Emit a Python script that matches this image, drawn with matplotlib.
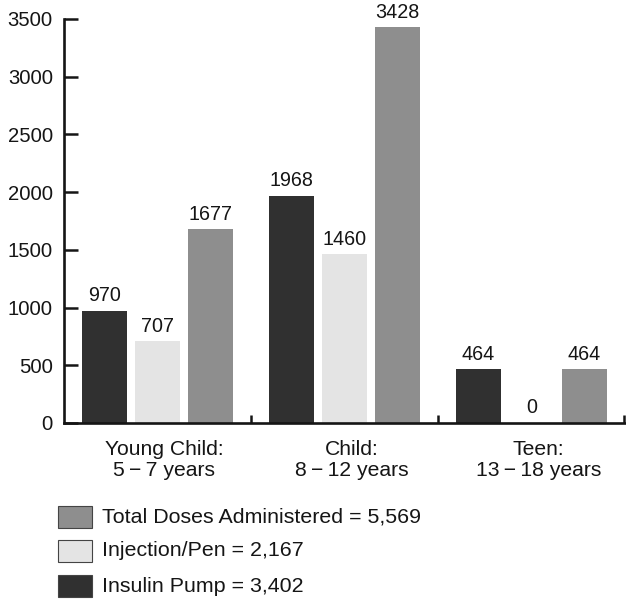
import matplotlib
matplotlib.use("Agg")
import matplotlib.pyplot as plt
from matplotlib.patches import Rectangle

plt.rcParams['font.family'] = ['Liberation Sans', 'DejaVu Sans']

categories = ["Young Child:\n5\u2009\u2212\u20097 years",
              "Child:\n8\u2009\u2212\u200912 years",
              "Teen:\n13\u2009\u2212\u200918 years"]
insulin_pump = [970, 1968, 464]
injection_pen = [707, 1460, 0]
total_doses = [1677, 3428, 464]

legend_labels = ["Total Doses Administered = 5,569",
                 "Injection/Pen = 2,167",
                 "Insulin Pump = 3,402"]
y_ticks = [0, 500, 1000, 1500, 2000, 2500, 3000, 3500]

c_dark = "#303030"
c_light = "#e4e4e4"
c_mid = "#8e8e8e"
ink = "#151515"

fig = plt.figure(figsize=(6.26, 6.0), dpi=100)
ax = fig.add_axes([64 / 626, 1 - 423 / 600, 561 / 626, (423 - 19) / 600])

x = list(range(len(categories)))
width = 0.238
offset = 0.283
series = [(insulin_pump, c_dark, -offset),
          (injection_pen, c_light, 0.0),
          (total_doses, c_mid, offset)]
for vals, col, off in series:
    xs = [i + off for i in x]
    ax.bar(xs, vals, width=width, color=col, edgecolor='none')
    for xi, v in zip(xs, vals):
        ax.annotate(f"{v}", (xi, v), xytext=(0, 4), textcoords='offset points',
                    ha='center', va='bottom', fontsize=14.2, color=ink)

ax.set_ylim(0, 3500)
ax.set_xlim(-0.5, 2.5)
ax.set_yticks(y_ticks)
ax.set_yticklabels([str(t) for t in y_ticks], fontsize=14.6, color=ink)
ax.set_xticks([i + 0.037 for i in x])
ax.set_xticklabels(categories, fontsize=15.2, color=ink, linespacing=1.15)
ax.set_xticks([0.5, 1.5, 2.495], minor=True)

ax.tick_params(axis='y', direction='in', length=10, width=1.8, pad=8, colors=ink)
ax.tick_params(axis='x', which='major', length=0, pad=12)
ax.tick_params(axis='x', which='minor', direction='in', length=6, width=1.8, color=ink)

for side in ('top', 'right'):
    ax.spines[side].set_visible(False)
for side in ('left', 'bottom'):
    ax.spines[side].set_linewidth(1.9)
    ax.spines[side].set_color(ink)

# legend: swatches with text below the plot
leg_colors = [c_mid, c_light, c_dark]
leg_centers = [517, 551, 586]
for col, lab, yc in zip(leg_colors, legend_labels, leg_centers):
    fig.add_artist(Rectangle((58 / 626, 1 - (yc + 11) / 600), 34 / 626, 22 / 600,
                             transform=fig.transFigure, facecolor=col,
                             edgecolor='#444444', linewidth=0.8))
    fig.text(102 / 626, 1 - yc / 600, lab, fontsize=15.4, va='center', ha='left',
             color=ink)

fig.savefig("out.png", dpi=100)
